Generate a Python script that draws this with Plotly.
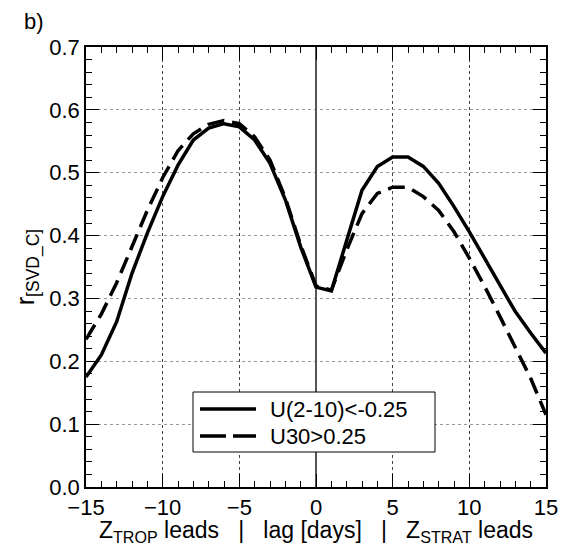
import plotly.graph_objects as go

lags = list(range(-15, 16))
solid_vals = [0.175, 0.21, 0.263, 0.34, 0.404, 0.462, 0.512, 0.552, 0.571, 0.578, 0.573,
              0.552, 0.515, 0.457, 0.382, 0.318, 0.312, 0.393, 0.472, 0.51, 0.525,
              0.525, 0.51, 0.483, 0.446, 0.406, 0.364, 0.321, 0.279, 0.245, 0.213]
dashed_vals = [0.235, 0.275, 0.325, 0.383, 0.44, 0.492, 0.535, 0.562, 0.577, 0.583, 0.578,
               0.557, 0.52, 0.46, 0.385, 0.32, 0.313, 0.377, 0.435, 0.467, 0.477,
               0.477, 0.462, 0.44, 0.406, 0.364, 0.319, 0.271, 0.223, 0.173, 0.115]
series_names = ["U(2-10)<-0.25", "U30>0.25"]

FONT = "Liberation Sans, Arial, sans-serif"
NB = "&nbsp;"
DASH = "17px,8px"

# plot area in pixels: x 86..546, y 47..487
def px(x):
    return (x - 86) / 460

def py(y):
    return (487 - y) / 440

fig = go.Figure()
fig.add_trace(go.Scatter(x=lags, y=solid_vals, mode="lines", name=series_names[0],
                         line=dict(color="black", width=3.5)))
fig.add_trace(go.Scatter(x=lags, y=dashed_vals, mode="lines", name=series_names[1],
                         line=dict(color="black", width=3.5, dash=DASH)))

# custom legend (box, sample lines, labels)
shapes = [
    dict(type="rect", xref="paper", yref="paper", x0=px(193), x1=px(435), y0=py(452), y1=py(392),
         line=dict(color="black", width=1), fillcolor="white", layer="above"),
    dict(type="line", xref="paper", yref="paper", x0=px(200), x1=px(256), y0=py(409), y1=py(409),
         line=dict(color="black", width=3.5), layer="above"),
    dict(type="line", xref="paper", yref="paper", x0=px(200), x1=px(256), y0=py(436), y1=py(436),
         line=dict(color="black", width=3.5, dash="26px,7px"), layer="above"),
]
annotations = [
    dict(text="b)", x=px(22), y=py(22), xref="paper", yref="paper", xanchor="left",
         yanchor="middle", showarrow=False, font=dict(size=22)),
    dict(text=series_names[0], x=px(268), y=py(409), xref="paper", yref="paper",
         xanchor="left", yanchor="middle", showarrow=False, font=dict(size=22)),
    dict(text=series_names[1], x=px(268), y=py(436), xref="paper", yref="paper",
         xanchor="left", yanchor="middle", showarrow=False, font=dict(size=22)),
]

fig.update_layout(
    width=564, height=546,
    margin=dict(l=86, r=18, t=47, b=59, autoexpand=False),
    paper_bgcolor="white", plot_bgcolor="white",
    font=dict(family=FONT, size=22, color="black"),
    showlegend=False,
    shapes=shapes,
    annotations=annotations,
)

fig.update_xaxes(
    range=[-15, 15], tick0=-15, dtick=5, automargin=False,
    showline=True, linecolor="black", linewidth=1.5, mirror="ticks",
    ticks="inside", ticklen=13, tickwidth=1, tickcolor="black",
    minor=dict(ticks="inside", ticklen=6, tickwidth=1, dtick=1, tickcolor="black", showgrid=False),
    showgrid=True, gridcolor="#444444", griddash="dot", gridwidth=1,
    zeroline=True, zerolinecolor="#555555", zerolinewidth=1.5,
    title=dict(text="Z<sub>TROP</sub> leads" + NB * 3 + "|" + NB * 3 + "lag [days]"
               + NB * 3 + "|" + NB * 3 + "Z<sub>STRAT</sub> leads",
               standoff=6, font=dict(size=23)),
    tickfont=dict(size=22),
)
fig.update_yaxes(
    range=[0, 0.7], tick0=0, dtick=0.1, tickformat=".1f", automargin=False,
    showline=True, linecolor="black", linewidth=1.5, mirror="ticks",
    ticks="inside", ticklen=13, tickwidth=1, tickcolor="black",
    minor=dict(ticks="inside", ticklen=6, tickwidth=1, dtick=0.02, tickcolor="black", showgrid=False),
    showgrid=True, gridcolor="#999999", griddash="dot", gridwidth=1,
    zeroline=False,
    title=dict(text="r<sub>[SVD_C]</sub>", standoff=8, font=dict(size=25)),
    tickfont=dict(size=22),
)

fig.write_html("out.html")
